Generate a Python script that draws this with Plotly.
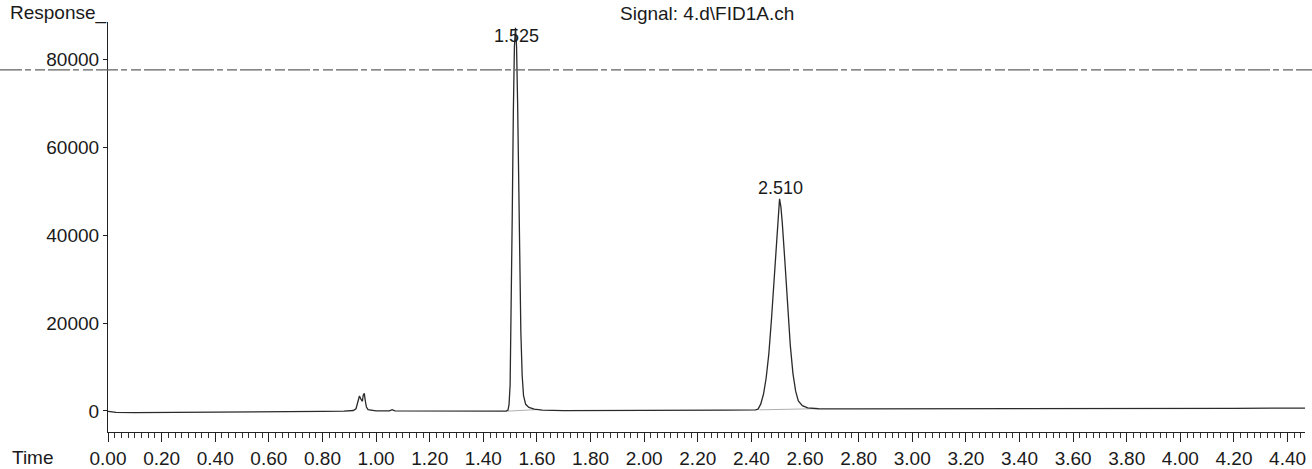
import plotly.graph_objects as go

# Chromatogram trace (time in min, response)
time = [0.000, 0.030, 0.100, 0.200, 0.300, 0.400, 0.500, 0.600, 0.700, 0.800, 0.880, 0.915,
        0.925, 0.932, 0.938, 0.944, 0.949, 0.952, 0.956, 0.960, 0.964, 0.970, 0.985, 1.000,
        1.050, 1.060, 1.070, 1.100, 1.200, 1.300, 1.400, 1.485, 1.492, 1.496, 1.500, 1.504,
        1.508, 1.512, 1.516, 1.520, 1.524, 1.528, 1.532, 1.536, 1.540, 1.545, 1.550, 1.558,
        1.570, 1.590, 1.620, 1.700, 1.800, 2.000, 2.200, 2.300, 2.415, 2.425, 2.435, 2.445,
        2.455, 2.465, 2.475, 2.485, 2.495, 2.500, 2.505, 2.510, 2.515, 2.525, 2.535, 2.545,
        2.555, 2.565, 2.575, 2.590, 2.610, 2.650, 2.800, 3.000, 3.200, 3.500, 3.800, 4.000,
        4.200, 4.465]
response = [-100, -350, -400, -380, -350, -300, -250, -200, -150, -100, -50, 100,
            500, 1800, 3400, 2600, 2200, 3600, 4000, 2200, 900, 300, 100, 0,
            0, 300, 0, 0, -50, -50, -50, -50, 200, 1500, 6000, 22000,
            45000, 68000, 83000, 87300, 83000, 70000, 50000, 32000, 18000, 8000, 3500, 1500,
            800, 400, 200, 50, 50, 100, 150, 200, 250, 400, 1600, 3800,
            7500, 13000, 21000, 30000, 40000, 45500, 48300, 46500, 43000, 34000, 24000, 15000,
            8500, 4500, 2300, 1200, 700, 500, 450, 450, 480, 500, 520, 550,
            600, 650]

# Peak labels (retention times) and their label heights
peak_labels = ["1.525", "2.510"]
peak_times = [1.525, 2.510]
label_heights = [85400, 50800]

# Integration baselines under the two peaks
base1_t = [1.490, 1.600]
base1_v = [-50, 300]
base2_t = [2.430, 2.640]
base2_v = [250, 500]

# Scan artifact horizontal line level
artifact_level = 77700

x_ticks = [round(0.2 * i, 2) for i in range(23)]
x_ticktext = [f"{v:.2f}" for v in x_ticks]
y_ticks = [0, 20000, 40000, 60000, 80000]
y_ticktext = ["0", "20000", "40000", "60000", "80000"]

FONT = "Liberation Sans, Arial, sans-serif"
INK = "#1a1a1a"
FS = 19
W, H = 1312, 469

fig = go.Figure()
fig.add_trace(go.Scatter(x=base1_t, y=base1_v, mode="lines",
                         line=dict(color="#b0b0b0", width=1), hoverinfo="skip"))
fig.add_trace(go.Scatter(x=base2_t, y=base2_v, mode="lines",
                         line=dict(color="#b0b0b0", width=1), hoverinfo="skip"))
fig.add_trace(go.Scatter(x=time, y=response, mode="lines",
                         line=dict(color="#2a2a2a", width=1.3)))

for lab, t, h in zip(peak_labels, peak_times, label_heights):
    fig.add_annotation(x=t, y=h, text=lab, showarrow=False, xanchor="center",
                       yanchor="middle", font=dict(family=FONT, size=FS - 1, color=INK))

fig.add_shape(type="line", xref="paper", yref="y", x0=0, x1=1,
              y0=artifact_level, y1=artifact_level,
              line=dict(color="#606060", width=1.3, dash="22px,3px,6px,4px,10px,3px"))

fig.add_annotation(xref="paper", yref="paper", x=8 / W, y=1 - 13 / H, text="Response_",
                   showarrow=False, xanchor="left", yanchor="middle",
                   font=dict(family=FONT, size=FS, color=INK))
fig.add_annotation(xref="paper", yref="paper", x=707 / W, y=1 - 13 / H,
                   text="Signal: 4.d\\FID1A.ch",
                   showarrow=False, xanchor="center", yanchor="middle",
                   font=dict(family=FONT, size=FS, color=INK))
fig.add_annotation(xref="paper", yref="paper", x=10 / W, y=1 - 457 / H, text="Time",
                   showarrow=False, xanchor="left", yanchor="middle",
                   font=dict(family=FONT, size=FS, color=INK))

fig.update_layout(
    width=W, height=H,
    margin=dict(l=0, r=0, t=0, b=0, pad=0, autoexpand=False),
    paper_bgcolor="white", plot_bgcolor="white",
    showlegend=False,
    font=dict(family=FONT, size=FS, color=INK),
    xaxis=dict(domain=[108 / W, 1305 / W], range=[0, 4.465], tickmode="array",
               tickvals=x_ticks, ticktext=x_ticktext, automargin=False,
               showline=True, linecolor="#222", linewidth=1.2, ticks="outside", ticklen=9,
               tickwidth=1.2, tickcolor="#222", showgrid=False, zeroline=False,
               minor=dict(dtick=0.025, tick0=0, ticks="outside", ticklen=5, tickwidth=1,
                          tickcolor="#333", showgrid=False),
               tickfont=dict(family=FONT, size=FS, color=INK)),
    yaxis=dict(domain=[1 - 432 / H, 1 - 22 / H], range=[-4800, 88600], tickmode="array",
               tickvals=y_ticks, ticktext=y_ticktext, automargin=False,
               showline=True, linecolor="#222", linewidth=1.2, ticks="outside", ticklen=4,
               tickwidth=1, tickcolor="#222", showgrid=False, zeroline=False,
               tickfont=dict(family=FONT, size=FS, color=INK)),
)

fig.write_html("out.html", config={"displayModeBar": False},
               post_script="document.body.style.margin='0';document.body.style.overflow='hidden';")
